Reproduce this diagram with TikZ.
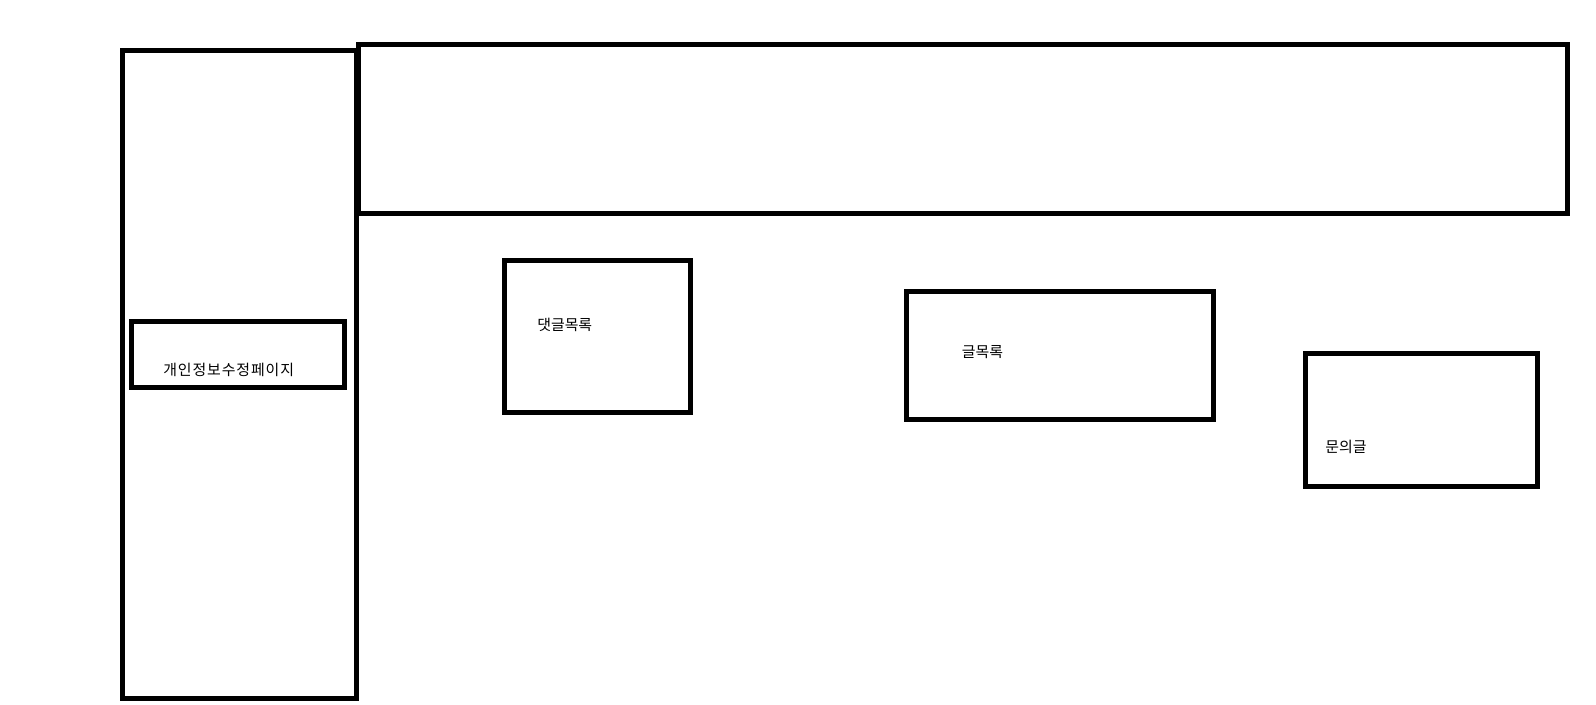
\documentclass[tikz,border=0pt]{standalone}
\usepackage{fontspec}
\newfontfamily\kr{Noto Sans CJK KR}
\newfontfamily\krwide[LetterSpace=6]{Noto Sans CJK KR}
\usetikzlibrary{fit}
\begin{document}
\begin{tikzpicture}[x=0.75pt,y=-0.75pt,
  box/.style={draw=black,line width=3.75pt,inner sep=0pt,outer sep=0pt,fill=none},
  lbl/.style={inner sep=0pt,anchor=west,font=\kr\fontsize{11.2pt}{13pt}\selectfont}]
\useasboundingbox (0,0) rectangle (1596,705);
\node[box,fit={(122.5,50.5) (356.5,698)}] (side) {};
\node[box,fit={(358,44.6) (1567.5,213.5)}] (top) {};
\node[box,fit={(131.8,321.5) (344,387.5)}] (edit) {};
\node[box,fit={(504.3,260.7) (690.7,412.3)}] (cmt) {};
\node[box,fit={(906.5,291.5) (1213,420)}] (posts) {};
\node[box,fit={(1305,354) (1537.5,487)}] (qna) {};
\node[lbl,font=\krwide\fontsize{11.2pt}{13pt}\selectfont] (tedit) at (163,370) {개인정보수정페이지};
\node[lbl] (tcmt) at (537,325) {댓글목록};
\node[lbl] (tposts) at (961.5,352) {글목록};
\node[lbl] (tqna) at (1325,446.5) {문의글};
\end{tikzpicture}
\end{document}
